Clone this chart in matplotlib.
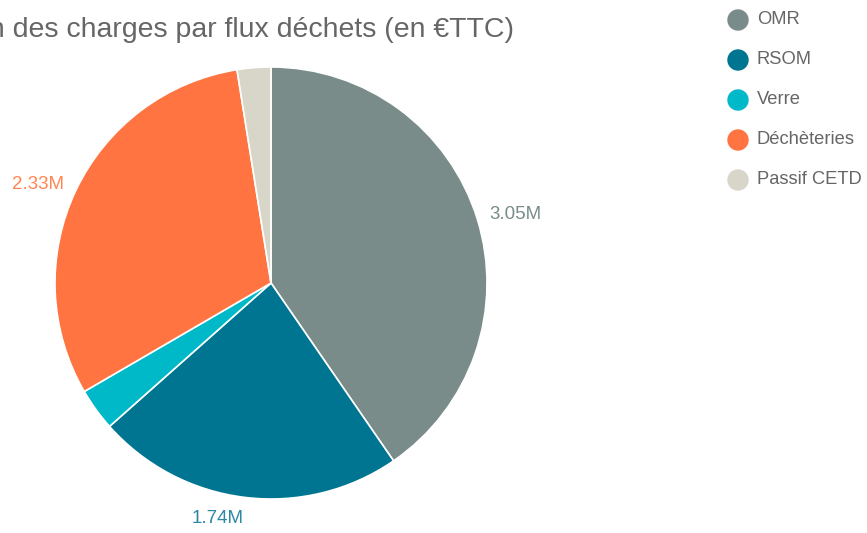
import matplotlib.pyplot as plt
from matplotlib.patches import Circle
import numpy as np

plt.rcParams['font.family'] = ['Liberation Sans', 'DejaVu Sans']

# data (M€ TTC)
categories = ['OMR', 'RSOM', 'Verre', 'Déchèteries', 'Passif CETD']
values = [3.05, 1.74, 0.24, 2.33, 0.19]
labels = ['3.05M', '1.74M', '', '2.33M', '']
colors = ['#798c89', '#007592', '#00b9c8', '#ff7440', '#d7d6c9']
label_colors = ['#798c89', '#2b87a3', '#00b9c8', '#ff8652', '#b0b0a0']

W, H = 867, 533
fig = plt.figure(figsize=(W / 100, H / 100), dpi=100)

# overlay in pixel coords for title / legend
ov = fig.add_axes([0, 0, 1, 1])
ov.set_xlim(0, W)
ov.set_ylim(H, 0)
ov.axis('off')

# pie: centre (271, 283), radius 216 px
cx, cy, r = 271, 283, 216
ax = fig.add_axes([(cx - r) / W, (H - cy - r) / H, 2 * r / W, 2 * r / H])
wedges, _ = ax.pie(values, colors=colors, startangle=90, counterclock=False,
                   radius=1, wedgeprops=dict(edgecolor='white', linewidth=1.2))
ax.set_xlim(-1, 1)
ax.set_ylim(-1, 1)
ax.set_aspect('equal')
ax.axis('off')

for w, lab, c in zip(wedges, labels, label_colors):
    if not lab:
        continue
    mid = np.deg2rad((w.theta1 + w.theta2) / 2)
    d = 1.06
    x, y = d * np.cos(mid), d * np.sin(mid)
    ha = 'left' if x > 0 else 'right'
    va = 'center'
    if y < -0.9:
        va = 'top'
    ax.text(x, y, lab, color=c, fontsize=13.5, ha=ha, va=va, clip_on=False)

# title (cut off on the left like the original)
ov.text(514, 30, 'Répartition des charges par flux déchets (en €TTC)',
        ha='right', va='center', fontsize=20.5, color='#666666')

# legend
for i, (name, c) in enumerate(zip(categories, colors)):
    y = 20 + 40 * i
    ov.add_patch(Circle((738, y), 10, color=c))
    ov.text(757, y, name, ha='left', va='center', fontsize=13.2, color='#666666')

fig.savefig('out.png', dpi=100)
